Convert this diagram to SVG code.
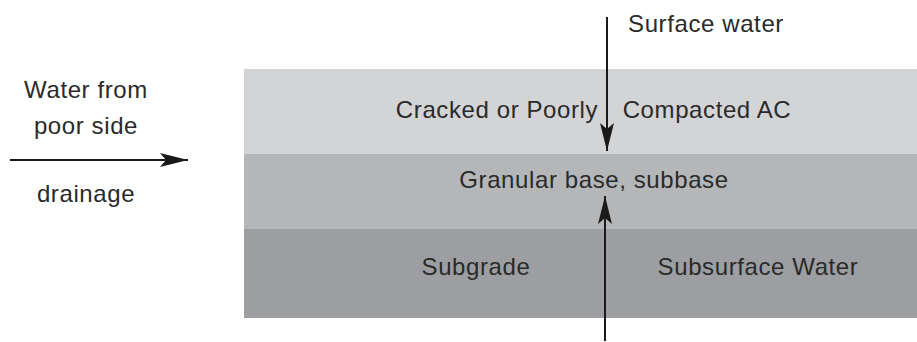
<svg xmlns="http://www.w3.org/2000/svg" width="917" height="342" viewBox="0 0 917 342">
<style>
text{font-family:"Liberation Sans",Arial,sans-serif;font-size:24px;letter-spacing:0.6px;fill:#2a2a2a;text-anchor:middle}
.ln{stroke:#1a1a1a;stroke-width:2;fill:none}
</style>
<defs>
<marker id="ah" viewBox="0 0 28 14" refX="28" refY="7" markerWidth="28" markerHeight="14" markerUnits="userSpaceOnUse" orient="auto">
<path d="M0,0 L28,7 L0,14 L6,7 Z" fill="#1a1a1a"/>
</marker>
</defs>
<rect width="917" height="342" fill="#ffffff"/>
<g id="layer-ac"><rect x="244" y="69" width="673" height="85" fill="#d3d4d6"/>
<text x="497" y="118">Cracked or Poorly</text><text x="707" y="118">Compacted AC</text></g>
<g id="layer-base"><rect x="244" y="154" width="673" height="75" fill="#b5b6b8"/>
<text x="594" y="188">Granular base, subbase</text></g>
<g id="layer-subgrade"><rect x="244" y="229" width="673" height="89" fill="#9d9ea1"/>
<text x="476" y="275">Subgrade</text><text x="758" y="275">Subsurface Water</text></g>
<g id="label-side"><text x="86" y="98">Water from</text><text x="86" y="134">poor side</text><text x="86" y="202">drainage</text></g>
<g id="label-surface"><text x="706" y="32">Surface water</text></g>
<g id="connectors">
<line class="ln" x1="10" y1="160" x2="188" y2="160" marker-end="url(#ah)"/>
<line class="ln" x1="607" y1="17" x2="607" y2="151" marker-end="url(#ah)"/>
<line class="ln" x1="605" y1="341" x2="605" y2="196" marker-end="url(#ah)"/>
</g>
</svg>
